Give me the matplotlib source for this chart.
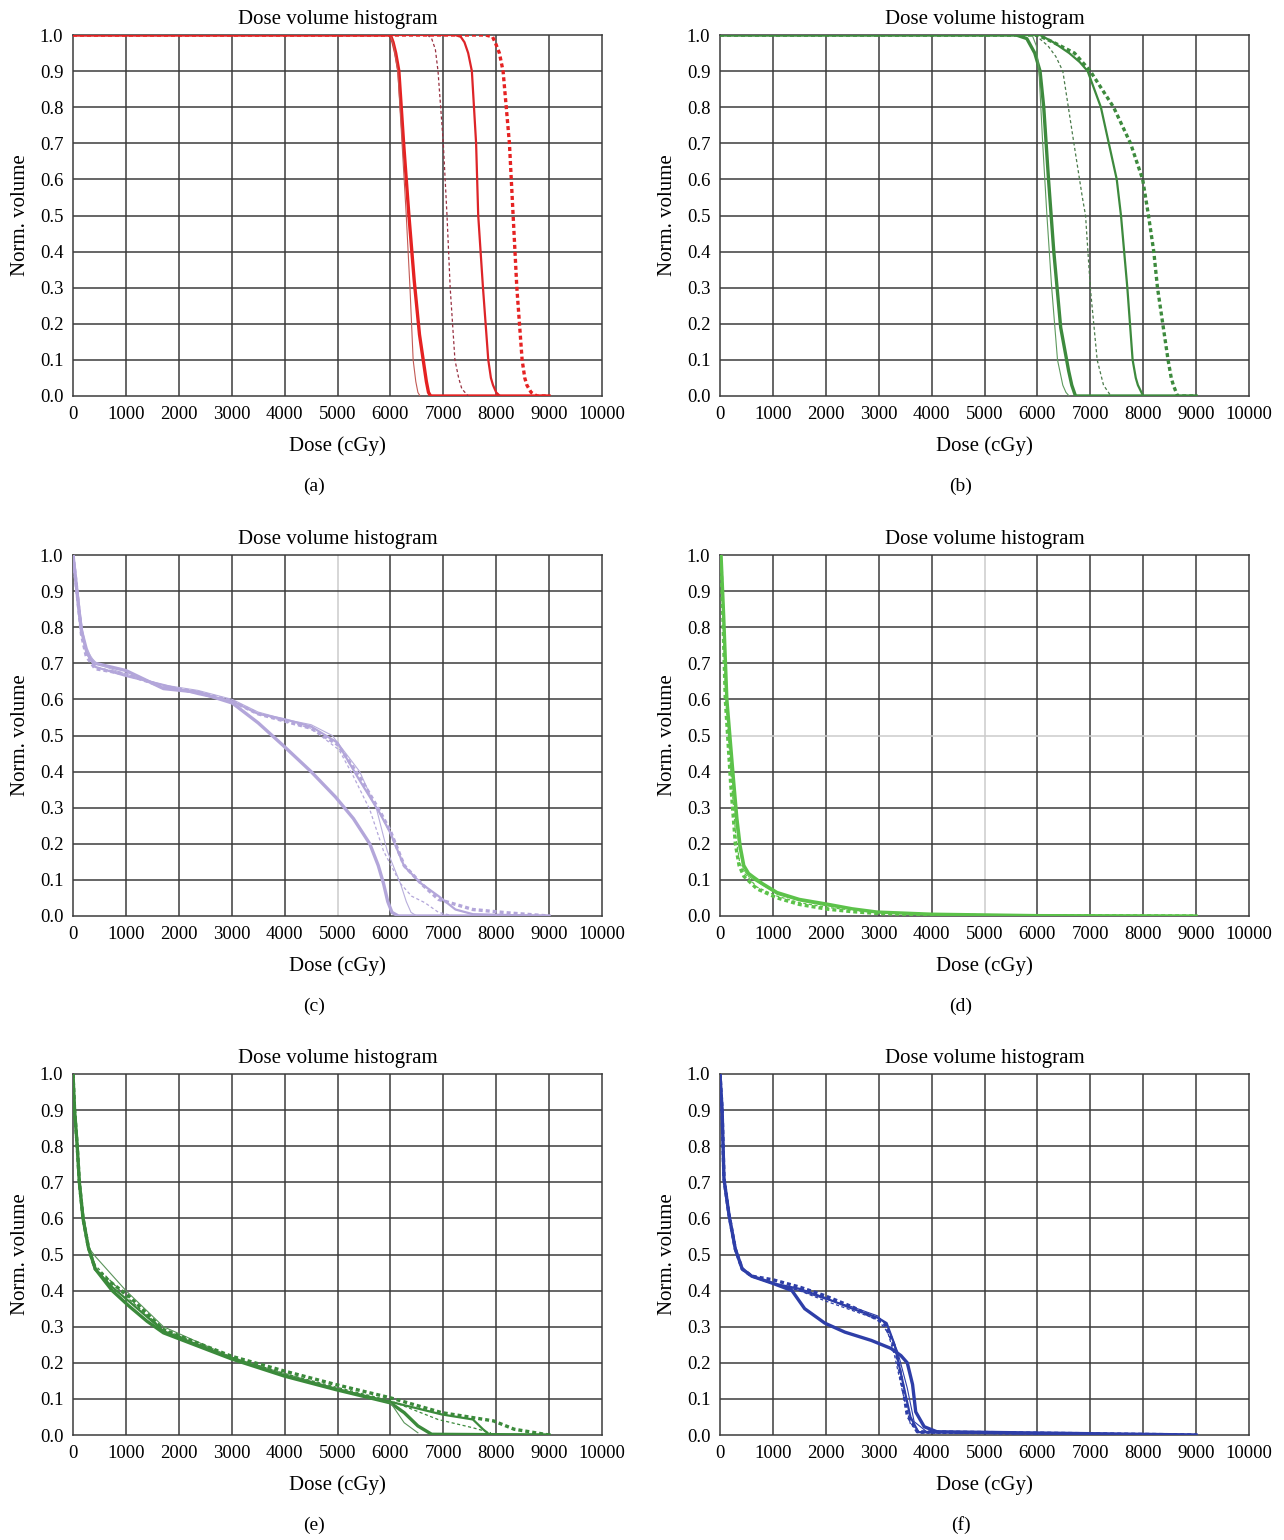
import numpy as np
import matplotlib
matplotlib.use("Agg")
import matplotlib.pyplot as plt

plt.rcParams["font.family"] = ["Liberation Serif", "DejaVu Serif"]

# ---- du lieu doc tu hinh (dose cGy, norm. volume) ----
x_ticks = [0, 1000, 2000, 3000, 4000, 5000, 6000, 7000, 8000, 9000, 10000]
y_ticks = [0.0, 0.1, 0.2, 0.3, 0.4, 0.5, 0.6, 0.7, 0.8, 0.9, 1.0]
panel_labels = ["(a)", "(b)", "(c)", "(d)", "(e)", "(f)"]

# (a)
a_thick = ([0, 6000, 6050, 6100, 6160, 6250, 6350, 6450, 6550, 6620, 6680, 6720, 6760, 9000],
           [1, 1, 0.98, 0.95, 0.9, 0.7, 0.5, 0.32, 0.17, 0.1, 0.04, 0.01, 0, 0])
a_thin = ([0, 6000, 6060, 6140, 6220, 6300, 6370, 6430, 6480, 6520, 6560],
          [1, 1, 0.97, 0.9, 0.7, 0.5, 0.3, 0.1, 0.04, 0.01, 0])
a_thin_dot = ([0, 6700, 6780, 6850, 6900, 7000, 7070, 7130, 7220, 7290, 7350, 7470],
              [1, 1, 0.99, 0.96, 0.9, 0.7, 0.5, 0.3, 0.1, 0.05, 0.02, 0])
a_mid = ([0, 7220, 7330, 7400, 7470, 7540, 7620, 7660, 7750, 7850, 7900, 7940, 8000, 8070],
         [1, 1, 0.995, 0.98, 0.95, 0.9, 0.7, 0.5, 0.3, 0.1, 0.05, 0.03, 0.01, 0])
a_thick_dot = ([0, 7800, 7930, 7980, 8060, 8130, 8250, 8320, 8390, 8490, 8540, 8580, 8660, 8770, 9000],
               [1, 1, 0.995, 0.98, 0.95, 0.9, 0.7, 0.5, 0.3, 0.1, 0.05, 0.03, 0.01, 0, 0])

# (b)
b_thick = ([0, 5600, 5800, 5950, 6050, 6120, 6210, 6310, 6440, 6590, 6650, 6720, 9000],
           [1, 1, 0.99, 0.95, 0.9, 0.8, 0.6, 0.4, 0.19, 0.07, 0.03, 0, 0])
b_thin = ([0, 5900, 5980, 6030, 6100, 6180, 6270, 6380, 6480, 6540, 6600],
          [1, 1, 0.97, 0.9, 0.7, 0.5, 0.3, 0.1, 0.03, 0.01, 0])
b_thin_dot = ([0, 5900, 6000, 6200, 6350, 6480, 6690, 6850, 6910, 7000, 7130, 7250, 7390],
              [1, 1, 0.995, 0.97, 0.94, 0.9, 0.7, 0.55, 0.5, 0.3, 0.1, 0.03, 0])
b_mid = ([0, 6050, 6300, 6600, 6800, 6950, 7200, 7350, 7500, 7580, 7700, 7800, 7860, 7900, 8000],
         [1, 1, 0.98, 0.95, 0.925, 0.9, 0.8, 0.7, 0.6, 0.5, 0.3, 0.1, 0.05, 0.03, 0])
b_thick_dot = ([0, 6000, 6300, 6700, 7000, 7440, 7760, 7990, 8100, 8200, 8270, 8370, 8470, 8530, 8570, 8650, 9000],
               [1, 1, 0.98, 0.95, 0.9, 0.8, 0.7, 0.6, 0.5, 0.4, 0.3, 0.2, 0.1, 0.05, 0.03, 0, 0])

# (c)
c_thick = ([0, 30, 60, 110, 160, 250, 320, 420, 1000, 1710, 2360, 3010, 3500, 3990, 4500, 4960, 5300, 5610, 5770, 5870, 5950, 6030, 6150, 9000],
           [1, 0.96, 0.92, 0.85, 0.79, 0.74, 0.715, 0.70, 0.68, 0.63, 0.62, 0.59, 0.535, 0.47, 0.40, 0.33, 0.27, 0.2, 0.14, 0.09, 0.04, 0.01, 0, 0])
c_thin = ([0, 60, 160, 250, 420, 1000, 1710, 2360, 3010, 3500, 4000, 4500, 4900, 5420, 5740, 5940, 6190, 6300, 6390, 6500],
          [1, 0.93, 0.8, 0.74, 0.7, 0.67, 0.64, 0.625, 0.60, 0.565, 0.545, 0.53, 0.5, 0.4, 0.295, 0.18, 0.09, 0.04, 0.01, 0])
c_thin_dot = ([0, 60, 160, 250, 420, 1000, 1710, 2360, 3010, 3500, 4000, 4500, 5030, 5290, 5610, 5870, 6190, 6400, 6650, 6910, 7200],
              [1, 0.93, 0.79, 0.73, 0.69, 0.67, 0.635, 0.62, 0.595, 0.56, 0.54, 0.52, 0.46, 0.39, 0.295, 0.18, 0.09, 0.055, 0.037, 0.01, 0])
c_mid = ([0, 60, 160, 250, 420, 1000, 1710, 2360, 3010, 3500, 4000, 4500, 5000, 5400, 5800, 6000, 6260, 6580, 6910, 7230, 7560, 9000],
         [1, 0.92, 0.8, 0.73, 0.69, 0.665, 0.64, 0.615, 0.595, 0.56, 0.545, 0.525, 0.48, 0.38, 0.285, 0.23, 0.138, 0.09, 0.055, 0.018, 0.005, 0])
c_thick_dot = ([0, 60, 160, 250, 420, 1000, 1710, 2360, 3010, 3500, 4000, 4500, 5000, 5400, 5800, 6000, 6260, 6580, 6910, 7560, 8200, 9000],
               [1, 0.92, 0.78, 0.72, 0.685, 0.67, 0.635, 0.62, 0.595, 0.56, 0.54, 0.52, 0.475, 0.39, 0.29, 0.235, 0.14, 0.09, 0.046, 0.018, 0.009, 0])

# (d)
d_thick = ([0, 20, 70, 130, 260, 320, 380, 450, 540, 640, 800, 1080, 1500, 2020, 2500, 2970, 4000, 5000, 6000, 9000],
           [1, 1, 0.83, 0.6, 0.37, 0.27, 0.195, 0.14, 0.118, 0.107, 0.09, 0.065, 0.046, 0.033, 0.02, 0.011, 0.005, 0.003, 0.001, 0])
d_thin = ([0, 20, 65, 120, 240, 300, 360, 440, 540, 640, 1080, 1500, 2020, 2970, 4000, 6000],
          [1, 0.99, 0.82, 0.6, 0.37, 0.26, 0.19, 0.13, 0.11, 0.1, 0.06, 0.042, 0.028, 0.01, 0.004, 0])
d_thin_dot = ([0, 20, 60, 110, 220, 300, 370, 450, 700, 1080, 1500, 2020, 2970, 4000, 6000],
              [1, 0.99, 0.81, 0.6, 0.37, 0.22, 0.15, 0.12, 0.08, 0.055, 0.037, 0.024, 0.009, 0.004, 0])
d_thick_dot = ([0, 20, 60, 100, 200, 290, 360, 450, 700, 1080, 1500, 2020, 2500, 2970, 4000, 5000, 9000],
               [1, 0.98, 0.8, 0.6, 0.37, 0.2, 0.14, 0.11, 0.075, 0.05, 0.032, 0.019, 0.012, 0.007, 0.003, 0.001, 0])

# (e)
e_thick = ([0, 30, 80, 120, 190, 290, 420, 580, 740, 1060, 1400, 1710, 3010, 4000, 4960, 6000, 6260, 6520, 6780, 9000],
           [1, 0.9, 0.8, 0.7, 0.6, 0.52, 0.46, 0.43, 0.40, 0.357, 0.315, 0.283, 0.21, 0.163, 0.126, 0.089, 0.062, 0.025, 0.002, 0])
e_thin = ([0, 30, 80, 120, 190, 290, 420, 1000, 1710, 3010, 4000, 4960, 6000, 6260, 6520],
          [1, 0.9, 0.8, 0.7, 0.6, 0.52, 0.495, 0.40, 0.30, 0.215, 0.17, 0.13, 0.09, 0.034, 0.006])
e_thin_dot = ([0, 30, 80, 120, 190, 290, 420, 1000, 1710, 3010, 4000, 4960, 6000, 6900, 7560, 7900],
              [1, 0.9, 0.8, 0.7, 0.6, 0.52, 0.47, 0.384, 0.292, 0.215, 0.17, 0.133, 0.095, 0.043, 0.02, 0.006])
e_mid = ([0, 30, 80, 120, 190, 290, 420, 740, 1060, 1710, 3010, 4000, 4960, 6000, 6970, 7560, 7750, 7880, 9000],
         [1, 0.9, 0.8, 0.7, 0.6, 0.52, 0.46, 0.41, 0.37, 0.288, 0.212, 0.165, 0.128, 0.092, 0.057, 0.043, 0.016, 0, 0])
e_thick_dot = ([0, 30, 80, 120, 190, 290, 420, 740, 1060, 1710, 3000, 4000, 4960, 6000, 6970, 7950, 8340, 9000],
               [1, 0.9, 0.8, 0.7, 0.6, 0.52, 0.46, 0.42, 0.384, 0.292, 0.218, 0.177, 0.14, 0.103, 0.062, 0.039, 0.016, 0])

# (f)
f_thick = ([0, 40, 75, 170, 290, 420, 600, 1000, 1360, 1600, 1980, 2360, 2860, 3230, 3420, 3540, 3640, 3700, 3860, 4100, 9000],
           [1, 0.9, 0.71, 0.61, 0.515, 0.46, 0.44, 0.42, 0.40, 0.35, 0.31, 0.285, 0.262, 0.24, 0.22, 0.20, 0.14, 0.064, 0.023, 0.009, 0])
f_thin = ([0, 40, 75, 170, 290, 420, 600, 1000, 1500, 1980, 2500, 2980, 3170, 3360, 3540, 3670, 3900, 9000],
          [1, 0.9, 0.71, 0.61, 0.515, 0.46, 0.44, 0.42, 0.40, 0.377, 0.355, 0.33, 0.30, 0.23, 0.13, 0.037, 0.01, 0])
f_thin_dot = ([0, 40, 75, 170, 290, 420, 600, 1000, 1500, 1980, 2500, 2980, 3170, 3300, 3450, 3600, 3800, 9000],
              [1, 0.9, 0.71, 0.61, 0.515, 0.46, 0.44, 0.42, 0.40, 0.372, 0.345, 0.32, 0.285, 0.22, 0.12, 0.03, 0.005, 0])
f_mid = ([0, 40, 75, 170, 290, 420, 600, 1000, 1500, 1980, 2500, 2980, 3150, 3300, 3450, 3600, 3750, 9000],
         [1, 0.9, 0.71, 0.61, 0.515, 0.46, 0.44, 0.42, 0.405, 0.38, 0.35, 0.325, 0.31, 0.25, 0.15, 0.05, 0.008, 0])
f_thick_dot = ([0, 40, 75, 170, 290, 420, 600, 1000, 1500, 1980, 2500, 2980, 3100, 3230, 3330, 3450, 3540, 3730, 9000],
               [1, 0.9, 0.71, 0.61, 0.515, 0.46, 0.44, 0.43, 0.41, 0.386, 0.355, 0.32, 0.31, 0.27, 0.23, 0.14, 0.055, 0.009, 0])

# ---- kieu duong ----
styles = {
    "thick": dict(ls="-", lw=2.4),
    "thin": dict(ls="-", lw=0.8),
    "mid": dict(ls="-", lw=1.6),
    "thin_dot": dict(ls=(0, (2.5, 2)), lw=0.9),
    "thick_dot": dict(ls=(0, (1.2, 0.9)), lw=2.4),
}

panels = [
    {"curves": [("thick", a_thick), ("thin", a_thin), ("thin_dot", a_thin_dot), ("mid", a_mid), ("thick_dot", a_thick_dot)],
     "colors": {"thick": "#e52222", "thin": "#c25a55", "thin_dot": "#983040", "mid": "#dd2428", "thick_dot": "#e52222"}},
    {"curves": [("thick", b_thick), ("thin", b_thin), ("thin_dot", b_thin_dot), ("mid", b_mid), ("thick_dot", b_thick_dot)],
     "colors": {"thick": "#3d8a3d", "thin": "#5e9a5e", "thin_dot": "#4a7a4a", "mid": "#3d8a3d", "thick_dot": "#3d8a3d"}},
    {"curves": [("thick", c_thick), ("thin", c_thin), ("thin_dot", c_thin_dot), ("mid", c_mid), ("thick_dot", c_thick_dot)],
     "colors": {"thick": "#b3a6da", "thin": "#b8aedc", "thin_dot": "#b3a6da", "mid": "#b3a6da", "thick_dot": "#b3a6da"}},
    {"curves": [("thick", d_thick), ("thin", d_thin), ("thin_dot", d_thin_dot), ("thick_dot", d_thick_dot)],
     "colors": {"thick": "#5cc24a", "thin": "#5cc24a", "thin_dot": "#5cc24a", "thick_dot": "#5cc24a"}},
    {"curves": [("thick", e_thick), ("thin", e_thin), ("thin_dot", e_thin_dot), ("mid", e_mid), ("thick_dot", e_thick_dot)],
     "colors": {"thick": "#3b8a3b", "thin": "#5a935a", "thin_dot": "#3b8a3b", "mid": "#3b8a3b", "thick_dot": "#3b8a3b"}},
    {"curves": [("thick", f_thick), ("thin", f_thin), ("thin_dot", f_thin_dot), ("mid", f_mid), ("thick_dot", f_thick_dot)],
     "colors": {"thick": "#2e3ea8", "thin": "#2e3ea8", "thin_dot": "#2e3ea8", "mid": "#2e3ea8", "thick_dot": "#2e3ea8"}},
]

W, H = 1284, 1540
fig = plt.figure(figsize=(12.84, 15.4), dpi=100)

lefts = [73, 720]
tops = [35, 555, 1074]
ax_w = 529
ax_h = 361
grid_col = "#3c3c3c"

for i, p in enumerate(panels):
    col, row = i % 2, i // 2
    l = lefts[col]
    t = tops[row]
    ax = fig.add_axes([l / W, 1 - (t + ax_h) / H, ax_w / W, ax_h / H])

    for kind, (dose, vol) in p["curves"]:
        ax.plot(dose, vol, color=p["colors"][kind], zorder=3, solid_joinstyle="round", **styles[kind])

    ax.set_xlim(0, 10000)
    ax.set_ylim(0, 1.0)
    ax.set_xticks(x_ticks)
    ax.set_yticks(y_ticks)
    ax.set_xticklabels([str(v) for v in x_ticks])
    ax.set_yticklabels([f"{v:.1f}" for v in y_ticks])
    ax.tick_params(length=0, labelsize=13.5, pad=7)

    # luoi
    for xv in x_ticks[1:-1]:
        c = "#cccccc" if (xv == 5000 and i in (2, 3)) else grid_col
        ax.axvline(xv, color=c, lw=1.1, zorder=1)
    for yv in y_ticks[1:-1]:
        c = "#cccccc" if (yv == 0.5 and i == 3) else grid_col
        ax.axhline(yv, color=c, lw=1.1, zorder=1)
    for s in ax.spines.values():
        s.set_color(grid_col)
        s.set_linewidth(1.1)

    ax.set_title("Dose volume histogram", fontsize=15, pad=8)
    ax.set_xlabel("Dose (cGy)", fontsize=15, labelpad=10)
    ax.set_ylabel("Norm. volume", fontsize=15, labelpad=7)
    ax.text(0.455, -0.25, panel_labels[i], transform=ax.transAxes,
            ha="center", va="center", fontsize=14)

fig.savefig("out.png", dpi=100)
